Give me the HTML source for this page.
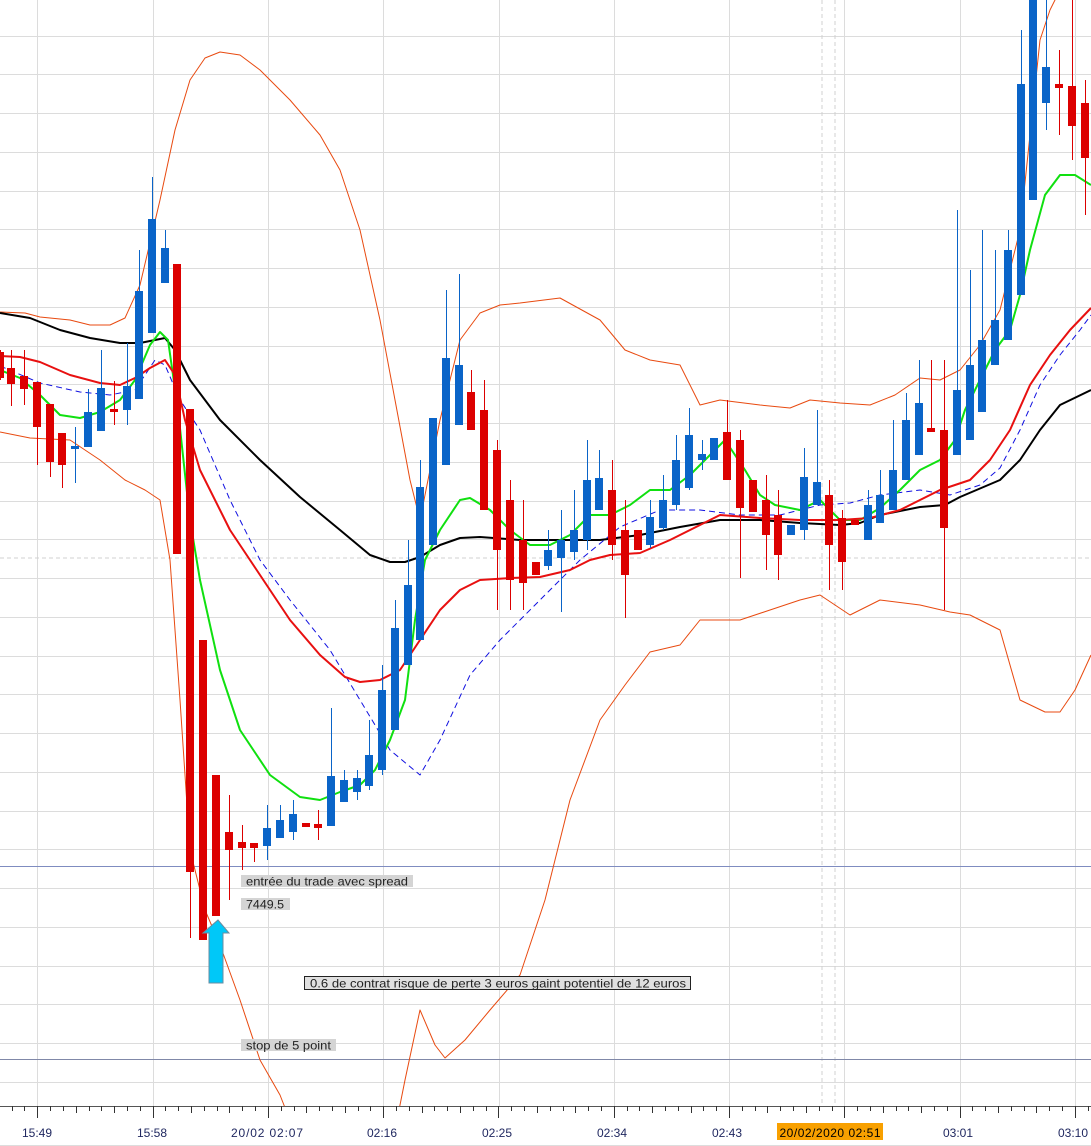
<!DOCTYPE html>
<html><head><meta charset="utf-8"><style>
body{margin:0;background:#fff;}
svg{display:block;font-family:"Liberation Sans","DejaVu Sans",sans-serif;}
</style></head><body>
<svg id="s" width="1091" height="1146" viewBox="0 0 1091 1146" xmlns="http://www.w3.org/2000/svg">
<rect width="1091" height="1146" fill="#fff"/>
<g id="grid" stroke="#dcdcdc" stroke-width="1"></g>
<line x1="822" y1="0" x2="822" y2="1106" stroke="#d0d0d0" stroke-dasharray="4,3"/>
<line x1="835" y1="0" x2="835" y2="1106" stroke="#d0d0d0" stroke-dasharray="4,3"/>
<line x1="0" y1="558" x2="1091" y2="558" stroke="#d0d0d0" stroke-dasharray="4,3"/>
<line x1="0" y1="866.5" x2="1091" y2="866.5" stroke="#7f8cc0" stroke-width="1"/>
<line x1="0" y1="1059.5" x2="1091" y2="1059.5" stroke="#8088a8" stroke-width="1"/>
<g id="lines" fill="none"></g>
<g id="candles"></g>
<polygon points="218,920 229,933 223,933 223,983 209,983 209,933 203,933" fill="#00c8f8" stroke="#6a8ca0" stroke-width="1"/>
<rect x="241" y="875" width="172" height="12" fill="#d4d4d4"/>
<text x="246" y="885.5" font-size="12" fill="#222" textLength="162" lengthAdjust="spacingAndGlyphs">entrée du trade avec spread</text>
<rect x="241" y="898" width="49" height="12" fill="#d4d4d4"/>
<text x="246" y="908.5" font-size="12" fill="#222" textLength="38" lengthAdjust="spacingAndGlyphs">7449.5</text>
<rect x="304.5" y="976.5" width="386" height="13" fill="#e0e0e0" stroke="#222"/>
<text x="310" y="987.5" font-size="12" fill="#222" textLength="376" lengthAdjust="spacingAndGlyphs">0.6 de contrat risque de perte 3 euros gaint potentiel de 12 euros</text>
<rect x="241" y="1039" width="95" height="12" fill="#d4d4d4"/>
<text x="246" y="1049.5" font-size="12" fill="#222" textLength="85" lengthAdjust="spacingAndGlyphs">stop de 5 point</text>
<rect x="0" y="1106" width="1091" height="40" fill="#fff"/>
<line x1="0" y1="1106.5" x2="1091" y2="1106.5" stroke="#555"/>
<line x1="0" y1="1145.5" x2="1091" y2="1145.5" stroke="#ddd"/>
<g id="ticks" stroke="#333"></g>
<rect x="777" y="1123" width="106" height="17" fill="#f8a000"/>
<g font-size="12" fill="#202860" text-anchor="middle">
<text x="37" y="1137">15:49</text><text x="152" y="1137">15:58</text><text x="267" y="1137" textLength="72">20/02 02:07</text>
<text x="382" y="1137">02:16</text><text x="497" y="1137">02:25</text><text x="612" y="1137">02:34</text>
<text x="727" y="1137">02:43</text><text x="830" y="1137" fill="#000" textLength="101">20/02/2020 02:51</text>
<text x="958" y="1137">03:01</text><text x="1073" y="1137">03:10</text></g>
</svg>
<script>
var NS="http://www.w3.org/2000/svg";
function el(p,t,a){var e=document.createElementNS(NS,t);for(var k in a)e.setAttribute(k,a[k]);document.getElementById(p).appendChild(e);return e;}
for(var k=-6;k<22;k++){var y=Math.round(268+38.75*k)+0.5;if(y>0&&y<1106)el("grid","line",{x1:0,x2:1091,y1:y,y2:y});}
for(var k=0;k<10;k++){var x=Math.round(37.3+115.3*k)+0.5;el("grid","line",{x1:x,x2:x,y1:0,y2:1106});}
for(var i=-3;i<86;i++){var x=Math.round(37.3+12.81*i)+0.5;if(x<0||x>1091)continue;var L=(i%9==0)?12:((i%3==0)?7:5);el("ticks","line",{x1:x,x2:x,y1:1106,y2:1106+L});}
function pl(pts,c,w,d){var s=pts.map(function(p){return p.join(",")}).join(" ");var a={points:s,stroke:c,"stroke-width":w,"stroke-linejoin":"round"};if(d)a["stroke-dasharray"]=d;el("lines","polyline",a);}
pl([[0,312],[25,313],[40,317],[70,320],[90,325],[110,325],[125,318],[140,285],[160,200],[175,130],[190,80],[205,58],[220,52],[240,55],[260,70],[290,100],[320,135],[340,170],[360,230],[380,320],[395,400],[410,480],[420,520],[440,420],[460,340],[480,313],[500,305],[520,303],[560,298],[600,320],[625,350],[650,360],[680,365],[700,405],[720,400],[760,405],[790,408],[810,400],[840,403],[870,405],[895,395],[920,378],[940,380],[960,370],[980,345],[1000,310],[1020,230],[1040,40],[1050,10],[1060,-10]],"#e84a10",1);
pl([[0,432],[30,438],[70,440],[100,460],[125,480],[145,490],[160,500],[170,560],[180,700],[190,850],[205,910],[220,945],[240,1000],[260,1060],[280,1095],[300,1146]],"#e84a10",1);
pl([[392,1146],[397,1120],[405,1080],[420,1010],[435,1045],[445,1058],[465,1040],[490,1010],[520,975],[545,900],[570,800],[600,720],[625,685],[650,652],[680,645],[700,620],[740,620],[770,610],[800,600],[820,595],[850,615],[880,600],[920,605],[950,612],[970,615],[1000,630],[1020,700],[1045,712],[1060,712],[1075,690],[1091,655]],"#e84a10",1);
pl([[0,313],[30,318],[60,330],[90,338],[120,343],[140,343],[155,340],[165,338],[175,350],[190,380],[220,420],[260,460],[300,497],[340,530],[370,555],[390,562],[405,562],[420,557],[440,545],[460,538],[480,537],[520,540],[560,540],[600,540],[640,535],[680,527],[720,520],[760,520],[800,523],[840,525],[860,523],[880,515],[920,507],[945,505],[960,497],[1000,480],[1020,460],[1040,430],[1060,405],[1091,390]],"#000",2);
pl([[0,366],[40,383],[80,392],[110,395],[135,390],[155,360],[165,365],[180,400],[200,430],[230,500],[260,560],[290,600],[330,650],[360,700],[390,750],[420,775],[440,740],[470,675],[500,640],[540,600],[580,560],[620,527],[660,510],[700,510],[740,515],[780,515],[820,505],[850,503],[880,495],[920,490],[950,495],[980,485],[1000,468],[1020,430],[1040,385],[1060,355],[1080,330],[1091,315]],"#1010e0",1,"6,4");
pl([[0,370],[20,378],[40,395],[60,415],[80,418],[100,412],[120,400],[135,380],[150,345],[160,332],[168,340],[178,410],[190,520],[200,580],[220,670],[240,730],[270,775],[300,797],[320,800],[340,792],[360,785],[375,770],[390,740],[405,700],[415,620],[425,560],[440,530],[460,500],[470,498],[490,510],[510,530],[530,545],[550,545],[570,535],[590,515],[610,515],[630,505],[650,490],[670,490],[690,475],[710,455],[725,440],[745,470],[760,495],[775,505],[800,510],[820,500],[840,520],[860,520],[880,508],[900,490],[920,470],[940,460],[955,440],[965,410],[980,380],[995,350],[1010,330],[1020,295],[1030,250],[1045,195],[1060,175],[1075,175],[1091,185]],"#10e010",2);
pl([[0,356],[20,357],[40,362],[70,375],[100,383],[120,385],[135,378],[150,368],[165,360],[175,375],[185,420],[200,470],[230,530],[260,575],[290,620],[320,655],[345,677],[360,682],[380,680],[400,670],[420,640],[440,610],[460,590],[480,580],[510,578],[540,577],[570,570],[590,560],[610,555],[640,553],[670,540],[700,525],[720,515],[760,518],[800,520],[840,520],[870,518],[900,510],[940,490],[970,480],[990,460],[1010,430],[1030,385],[1050,355],[1070,330],[1091,308]],"#e81010",2);
var C=[[0,'r',352,378,350,380],[11,'r',368,384,350,406],[24,'r',376,389,350,405],[37,'r',382,427,382,465],[50,'r',404,462,404,477],[62,'r',433,465,433,488],[75,'b',446,449,427,483],[88,'b',412,447,389,447],[101,'b',388,431,350,431],[114,'r',409,411,381,425],[127,'b',386,410,343,425],[139,'b',291,399,250,399],[152,'b',219,333,177,333],[165,'b',248,283,230,283],[177,'r',264,554,264,554],[190,'r',409,872,409,938],[203,'r',640,940,640,940],[216,'r',775,916,775,916],[229,'r',832,850,795,900],[242,'r',842,848,825,870],[254,'r',843,848,843,862],[267,'b',828,846,805,860],[280,'b',820,838,805,838],[293,'b',814,832,800,840],[306,'r',823,827,823,827],[318,'r',824,828,810,840],[331,'b',776,826,708,826],[344,'b',780,802,770,802],[357,'b',778,792,770,800],[369,'b',755,786,720,790],[382,'b',690,770,665,775],[395,'b',628,730,600,730],[408,'b',585,665,540,665],[420,'b',487,640,460,640],[433,'b',418,545,418,545],[446,'b',358,465,290,465],[459,'b',365,425,274,425],[471,'r',392,430,370,430],[484,'r',410,510,380,510],[497,'r',450,550,440,610],[510,'r',500,580,480,610],[523,'r',540,583,500,610],[536,'r',562,575,562,575],[548,'b',550,566,530,570],[561,'b',540,558,510,612],[574,'b',530,552,490,560],[587,'b',480,540,440,550],[599,'b',478,510,450,510],[612,'r',490,545,460,560],[625,'r',530,575,500,618],[638,'r',530,550,530,550],[650,'b',517,545,500,548],[663,'b',500,528,475,530],[676,'b',460,505,435,510],[689,'b',435,488,408,490],[702,'b',454,460,440,470],[714,'b',438,460,438,460],[727,'r',432,480,400,480],[740,'r',440,508,430,578],[753,'r',480,512,480,512],[766,'r',500,535,475,570],[778,'r',515,555,490,580],[791,'b',525,535,525,535],[804,'b',477,530,448,540],[817,'b',482,505,410,505],[829,'r',495,545,480,590],[842,'r',518,562,510,590],[855,'r',520,525,520,525],[868,'b',505,540,490,540],[880,'b',495,523,470,523],[893,'b',470,510,420,510],[906,'b',420,480,393,480],[919,'b',403,455,360,455],[931,'r',428,432,360,432],[944,'r',430,528,360,610],[957,'b',390,455,210,455],[970,'b',365,440,270,440],[982,'b',340,412,230,412],[995,'b',320,365,250,365],[1008,'b',250,340,230,340],[1021,'b',84,295,30,295],[1033,'b',0,200,0,200],[1046,'b',67,103,0,130],[1059,'r',84,88,50,135],[1072,'r',86,126,0,160],[1085,'r',103,158,80,215]];
C.forEach(function(c){var col=c[1]=='b'?'#0a64c8':'#dc0000';el("candles","line",{x1:c[0]+0.5,x2:c[0]+0.5,y1:c[4],y2:c[5],stroke:col,"stroke-width":1});var h=Math.max(3,c[3]-c[2]);el("candles","rect",{x:c[0]-4,y:c[2],width:8,height:h,fill:col});});
</script>
</body></html>
